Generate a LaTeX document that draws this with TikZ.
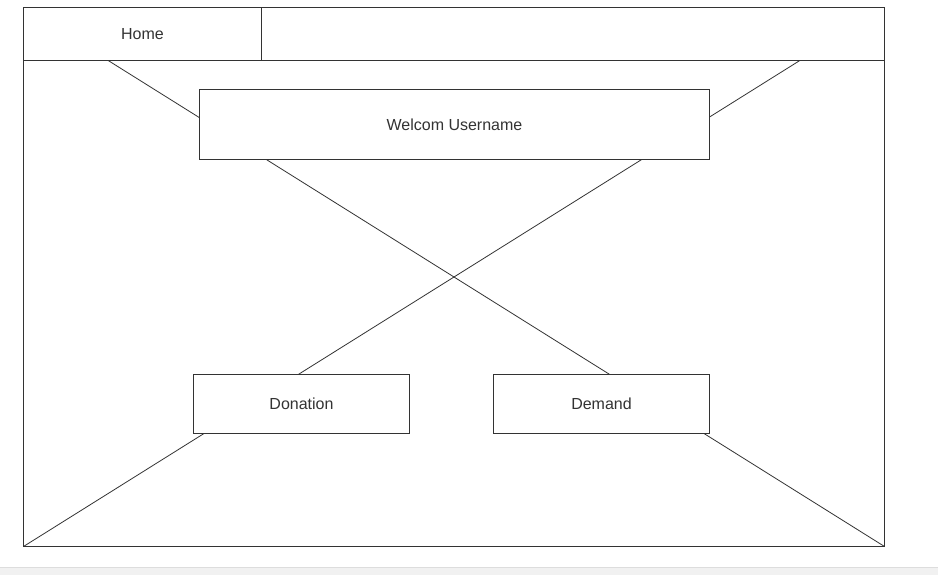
\documentclass[tikz,border=0pt]{standalone}
\usepackage{fontspec}
\setmainfont{Liberation Sans}
\definecolor{ink}{HTML}{333333}
\definecolor{barfill}{HTML}{F1F1F1}
\definecolor{barline}{HTML}{DDDDDD}
\begin{document}
\begin{tikzpicture}[x=1pt,y=-1pt,
  box/.style={draw=ink,fill=white,line width=1pt,inner sep=0pt,outer sep=0pt,
    text=ink,font=\fontsize{16}{19}\selectfont,anchor=north west},
  wire/.style={draw=ink,line width=0.8pt}]
\useasboundingbox (0,0) rectangle (938,575);
\fill[barfill] (0,567) rectangle (938,575);
\draw[barline,line width=1pt] (0,567.5) -- (938,567.5);
\node[box,minimum width=861pt,minimum height=539pt] (frame) at (23.5,7.5) {};
\draw[wire] (frame.south west) -- (frame.north east);
\draw[wire] (frame.south east) -- (frame.north west);
\node[box,minimum width=238pt,minimum height=53pt] (home) at (23.5,7.5) {Home};
\node[box,minimum width=623pt,minimum height=53pt] (bar) at (261.5,7.5) {};
\node[box,minimum width=510pt,minimum height=70pt] (welcome) at (199.5,89.5) {Welcom Username};
\node[box,minimum width=216pt,minimum height=59pt] (donation) at (193.5,374.5) {Donation};
\node[box,minimum width=216pt,minimum height=59pt] (demand) at (493.5,374.5) {Demand};
\end{tikzpicture}
\end{document}
